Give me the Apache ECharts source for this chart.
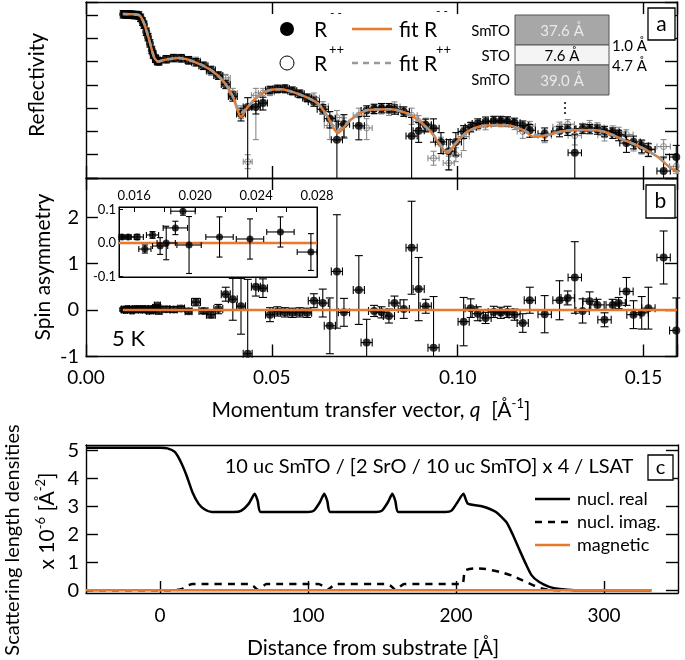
<!DOCTYPE html>
<html><head><meta charset="utf-8">
<script src="https://cdn.jsdelivr.net/npm/echarts@6/dist/echarts.min.js"></script>
<style>html,body{margin:0;padding:0;background:#fff}#c{width:685px;height:660px}</style>
</head><body><div id="c"></div>
<script>
// ---------- data: reflectivity / spin asymmetry (shared q grid) ----------
const q = [
0.0100,0.0106,0.0112,0.0118,0.0124,0.0130,0.0136,0.0142,0.0147,
0.0152,0.0156,0.0162,0.0167,0.0172,0.0177,0.0181,0.0187,0.0192,0.0196,
0.0216,0.0236,0.0256,0.0276,
0.0296,0.0316,0.0336,0.0356,0.0376,0.0395,0.0417,0.0435,0.0457,0.0476,0.0495,
0.0515,0.0535,0.0555,0.0575,0.0595,0.0613,0.0637,0.0656,0.0675,0.0694,0.0734,0.0755,
0.0775,0.0795,0.0815,0.0830,0.0855,0.0876,0.0895,0.0914,0.0935,0.0955,0.0976,0.0995,
0.1016,0.1035,0.1054,0.1075,0.1097,0.1116,0.1134,0.1153,0.1175,0.1194,0.1234,0.1274,0.1296,
0.1315,0.1336,0.1355,0.1376,0.1395,0.1417,0.1433,0.1454,0.1473,0.1495,0.1513,0.1554,0.1588];
const qErr = [
0.0005,0.0005,0.0005,0.0005,0.0005,0.0005,0.0005,0.0005,0.0005,
0.0004,0.0004,0.0004,0.0004,0.0004,0.0005,0.0006,0.0008,0.0008,0.0008,
0.0009,0.0009,0.0009,0.0009,
0.0012,0.0012,0.0012,0.0012,0.0012,0.0012,0.0012,0.0012,0.0012,0.0012,0.0012,
0.0012,0.0012,0.0012,0.0012,0.0012,0.0015,0.0015,0.0015,0.0015,0.0015,0.0015,0.0015,
0.0015,0.0015,0.0015,0.0015,0.0015,0.0015,0.0015,0.0015,0.0015,0.0015,0.0015,0.0015,
0.0015,0.0015,0.0015,0.0015,0.0015,0.0015,0.0015,0.0015,0.0015,0.0015,0.0018,0.0018,0.0018,
0.0018,0.0018,0.0018,0.0018,0.0018,0.0018,0.0018,0.0018,0.0018,0.0018,0.0018,0.0018,0.0018];
// log10 of R-- and R++
const rMM = [
0.03,0.03,0.02,0.02,0.01,0.00,0.00,-0.02,-0.12,
-0.28,-0.42,-0.72,-0.95,-1.22,-1.50,-1.70,-1.88,-1.98,-1.99,
-1.90,-1.85,-1.86,-1.94,
-2.03,-2.18,-2.36,-2.60,-2.98,-3.50,-4.25,-3.95,-3.95,-3.78,-3.22,
-3.17,-3.16,-3.25,-3.38,-3.55,-3.72,-4.05,-4.45,-5.36,-4.68,-4.76,-4.10,
-4.03,-4.00,-4.00,-4.06,-4.15,-5.20,-4.97,-4.72,-4.86,-5.45,-5.85,-5.45,
-5.00,-4.82,-4.66,-4.58,-4.55,-4.55,-4.57,-4.63,-4.75,-4.95,-5.10,-4.98,-4.92,
-5.92,-4.88,-4.90,-4.92,-4.98,-5.05,-5.15,-5.50,-5.45,-5.62,-5.78,-6.70,-6.10];
const rPP = [
0.04,0.02,0.03,0.01,0.02,0.01,0.00,-0.01,-0.11,
-0.27,-0.41,-0.70,-0.97,-1.20,-1.51,-1.70,-1.84,-1.90,-1.99,
-1.88,-1.84,-1.83,-1.97,
-1.95,-2.20,-2.45,-2.62,-2.70,-3.35,-4.15,-6.30,-3.45,-3.35,-3.32,
-3.20,-3.21,-3.30,-3.42,-3.60,-3.55,-3.92,-4.75,-4.40,-4.72,-4.30,-4.85,
-4.05,-4.05,-4.11,-3.93,-4.14,-4.30,-4.57,-4.68,-6.15,-5.55,-6.36,-6.00,
-5.22,-4.79,-4.73,-4.73,-4.58,-4.60,-4.60,-4.72,-5.00,-4.77,-5.18,-4.80,-4.69,
-5.18,-4.90,-4.73,-4.83,-5.16,-4.96,-5.02,-5.13,-5.54,-5.67,-5.75,-5.65,-6.50];
const mmDn = [
0.16,0.16,0.16,0.16,0.16,0.16,0.16,0.16,0.16,
0.16,0.16,0.16,0.16,0.16,0.16,0.16,0.16,0.16,0.16,
0.16,0.16,0.16,0.16,
0.16,0.16,0.16,0.16,0.18,0.20,0.30,4.00,0.30,0.30,0.16,
0.16,0.16,0.16,0.16,0.16,0.20,0.20,0.40,2.00,0.60,0.60,0.25,
0.20,0.20,0.20,0.20,0.20,2.00,0.50,0.30,0.60,0.50,0.80,0.60,
0.30,0.20,0.20,0.20,0.20,0.20,0.20,0.20,0.20,0.30,0.30,0.25,0.25,
1.50,0.20,0.20,0.20,0.25,0.25,0.25,0.40,0.30,0.30,0.30,1.00,0.60];
const mmUp = [
0.16,0.16,0.16,0.16,0.16,0.16,0.16,0.16,0.16,
0.16,0.16,0.16,0.16,0.16,0.16,0.16,0.16,0.16,0.16,
0.16,0.16,0.16,0.16,
0.16,0.16,0.16,0.16,0.18,0.20,0.25,0.40,0.25,0.25,0.16,
0.16,0.16,0.16,0.16,0.16,0.20,0.20,0.30,0.80,0.40,0.40,0.20,
0.20,0.20,0.20,0.20,0.20,0.80,0.35,0.25,0.40,0.40,0.50,0.40,
0.25,0.20,0.20,0.20,0.20,0.20,0.20,0.20,0.20,0.25,0.25,0.20,0.20,
0.80,0.20,0.20,0.20,0.20,0.20,0.20,0.30,0.25,0.25,0.25,0.60,0.50];
const ppDn = [
0.14,0.14,0.14,0.14,0.14,0.14,0.14,0.14,0.14,
0.14,0.14,0.14,0.14,0.14,0.14,0.14,0.14,0.14,0.14,
0.14,0.14,0.14,0.14,
0.14,0.14,0.14,0.14,0.20,0.25,0.30,0.30,1.90,0.30,0.14,
0.15,0.15,0.15,0.15,0.15,0.20,0.25,0.60,0.50,0.50,0.40,0.50,
0.20,0.20,0.20,0.20,0.20,0.40,0.30,0.30,0.30,0.40,0.30,0.30,
0.60,0.20,0.20,0.20,0.20,0.20,0.20,0.20,0.30,0.20,0.30,0.20,0.20,
0.40,0.20,0.20,0.20,0.25,0.25,0.25,0.25,0.30,0.30,0.30,0.50,0.30];
const ppUp = [
0.14,0.14,0.14,0.14,0.14,0.14,0.14,0.14,0.14,
0.14,0.14,0.14,0.14,0.14,0.14,0.14,0.14,0.14,0.14,
0.14,0.14,0.14,0.14,
0.14,0.14,0.14,0.14,0.15,0.20,0.25,0.30,0.30,0.20,0.14,
0.15,0.15,0.15,0.15,0.15,0.20,0.20,0.40,0.30,0.30,0.30,0.40,
0.20,0.20,0.20,0.20,0.20,0.30,0.25,0.25,0.30,0.30,0.30,0.30,
0.40,0.20,0.20,0.20,0.20,0.20,0.20,0.20,0.25,0.20,0.25,0.20,0.20,
0.30,0.20,0.20,0.20,0.20,0.20,0.20,0.20,0.25,0.25,0.25,0.30,0.30];
const sa = [
0.01,0.00,0.02,0.01,-0.01,0.02,0.01,0.02,0.01,
0.018,0.018,0.018,-0.018,0.024,-0.009,0.000,0.045,0.095,-0.006,
0.018,0.012,0.033,-0.027,
0.17,-0.02,-0.10,0.02,0.34,0.23,0.08,-0.94,0.50,0.47,-0.10,
-0.03,-0.05,-0.06,-0.05,-0.06,0.20,0.15,-0.34,0.83,-0.05,0.43,-0.70,
-0.02,-0.05,-0.13,0.15,0.02,1.34,0.45,0.08,-0.81,null,null,null,
-0.25,0.04,-0.08,-0.17,-0.04,-0.06,-0.04,-0.10,-0.28,0.21,-0.09,0.21,0.26,
0.70,-0.02,0.19,0.11,-0.21,0.11,0.15,0.40,-0.10,-0.06,0.04,1.13,-0.44];
const saErr = [
0.03,0.03,0.03,0.03,0.03,0.03,0.03,0.03,0.03,
0.006,0.006,0.008,0.012,0.010,0.025,0.050,0.020,0.012,0.085,
0.060,0.060,0.045,0.055,
0.08,0.06,0.07,0.10,0.15,0.45,0.60,1.60,0.20,0.20,0.15,
0.10,0.10,0.10,0.10,0.10,0.15,0.30,0.60,1.22,0.30,0.74,0.50,
0.12,0.12,0.15,0.15,0.20,1.00,0.68,0.15,1.10,null,null,null,
0.52,0.20,0.15,0.12,0.12,0.12,0.12,0.12,0.20,0.28,0.40,0.42,0.15,
0.77,0.26,0.20,0.12,0.15,0.12,0.12,0.30,0.30,0.35,0.45,0.57,0.70];
// fits
const fitQ  = [0.0099,0.0142,0.0156,0.0170,0.0183,0.0194,0.0210,0.0247,0.0290,0.0336,0.0371,0.0395,0.0417,0.0435,0.0462,0.0489,0.0524,0.0578,0.0624,0.0650,0.0677,0.0712,0.0758,0.0820,0.0874,0.0927,0.0973,0.0995,0.1027,0.1070,0.1124,0.1177,0.1204,0.1242,0.1285,0.1339,0.1392,0.1446,0.1492,0.1538,0.1573,0.1600];
const fitMM = [0.04,0.0,-0.35,-1.07,-1.8,-2.0,-1.93,-1.85,-2.0,-2.36,-2.87,-3.5,-4.37,-3.95,-3.5,-3.25,-3.19,-3.43,-3.8,-4.37,-5.07,-4.5,-4.08,-4.05,-4.3,-5.0,-5.93,-5.5,-5.0,-4.76,-4.72,-4.94,-5.23,-5.15,-4.98,-4.94,-5.0,-5.36,-5.67,-6.09,-6.57,-6.8];
const fitPP = [0.04,0.0,-0.35,-1.07,-1.8,-2.0,-1.93,-1.85,-2.0,-2.36,-2.87,-3.5,-4.2,-3.95,-3.5,-3.25,-3.19,-3.43,-3.8,-4.37,-4.95,-4.5,-4.08,-4.05,-4.3,-5.0,-5.85,-5.5,-5.0,-4.76,-4.72,-4.94,-5.15,-5.15,-4.98,-4.94,-5.0,-5.36,-5.67,-6.09,-6.57,-6.8];
const saFitQ = [0.0099,0.159];
const saFitV = [0,0];
const insetFitQ = [0.015,0.028];
const insetFitV = [0,0];
// ---------- data: SLD profile ----------
const realX = [-50,0,5,10,14,18,22,26,30,35,50,55,60,64,66,68,100,104,108,111,113,115,146,150,154,157,159,161,193,197,201,205,208,218,227,234,238,243,247,251,256,263,270,280,332];
const realY = [5.1,5.1,5.08,4.95,4.6,4.1,3.5,3.1,2.9,2.8,2.8,2.85,3.1,3.45,3.2,2.8,2.8,2.85,3.15,3.45,3.2,2.8,2.8,2.85,3.15,3.45,3.2,2.8,2.8,2.85,3.15,3.45,3.1,3.0,2.8,2.44,2.03,1.43,0.96,0.54,0.3,0.12,0.04,0.0,0.0];
const imagX = [-50,10,15,18,22,60,63,66,69,72,107,110,113,116,119,153,156,159,162,165,204,206,212,220,230,238,245,252,258,265,275];
const imagY = [0,0,0.05,0.15,0.22,0.22,0.15,0.02,0.12,0.22,0.22,0.15,0.02,0.12,0.22,0.22,0.15,0.02,0.12,0.22,0.22,0.7,0.78,0.76,0.65,0.52,0.35,0.18,0.06,0.01,0];
const magX = [-50,332];
const magY = [0,0];
// tick labels
const qTicks = [0, 0.05, 0.10, 0.15];
const insetQTicks = [0.016,0.020,0.024,0.028];
const insetQMinor = [0.016,0.018,0.020,0.022,0.024,0.026,0.028];
const insetSATicks = [-0.1,0.0,0.1];
const saTicks = [-1,0,1,2];
const distTicks = [0,100,200,300];
const sldTicks = [0,1,2,3,4,5];

// ---------- styling ----------
const F = 'Lato, "Open Sans", sans-serif';
const ORANGE = '#E8782A';
const QMAX = 0.159;

function errItem(color, cap){
  return function(params, api){
    const x = api.value(0), y = api.value(1);
    if (isNaN(x) || isNaN(y)) return null;
    const dn = api.value(2), up = api.value(3), dx = api.value(4);
    const cs = params.coordSys;
    const x0 = cs.x, x1 = cs.x + cs.width, y0 = cs.y, y1 = cs.y + cs.height;
    const c = api.coord([x, y]);
    if (c[0] < x0 - 0.5 || c[0] > x1 + 0.5) return null;
    const cy = v => Math.max(y0, Math.min(y1, v));
    const cx = v => Math.max(x0, Math.min(x1, v));
    const top = cy(api.coord([x, y + up])[1]);
    const bot = cy(api.coord([x, y - dn])[1]);
    const l = cx(api.coord([x - dx, y])[0]);
    const r = cx(api.coord([x + dx, y])[0]);
    const px = c[0], py = c[1];
    const st = {stroke: color, lineWidth: 1.1, fill: null};
    const ch = [];
    const ln = (a,b,c2,d) => ch.push({type:'line', shape:{x1:a,y1:b,x2:c2,y2:d}, style: st});
    ln(px, top, px, bot);
    if (py >= y0 && py <= y1) {
      ln(l, py, r, py);
      ln(l, py - cap, l, py + cap); ln(r, py - cap, r, py + cap);
    }
    if (top > y0 + 0.5) ln(px - cap, top, px + cap, top);
    if (bot < y1 - 0.5) ln(px - cap, bot, px + cap, bot);
    return {type:'group', children: ch};
  };
}

const lineStyleAx = {color:'#000', width:1.4};
function axis(o){
  const base = {
    type:'value', splitLine:{show:false},
    axisLine:{show:true, onZero:false, lineStyle:lineStyleAx},
    axisTick:{show:true, inside:true, length:12, lineStyle:lineStyleAx},
    axisLabel:{show:false}
  };
  return Object.assign(base, o);
}

const mmData = q.map((v,i)=>[v, rMM[i], mmDn[i], mmUp[i], qErr[i]]);
const ppData = q.map((v,i)=>[v, rPP[i], ppDn[i], ppUp[i], qErr[i]]);
const saData = q.map((v,i)=>[v, sa[i], saErr[i], saErr[i], qErr[i]]).filter(d => d[1] !== null);

const xAxes = [
  axis({gridIndex:0, position:'bottom', min:0, max:QMAX, interval:0.05}),
  axis({gridIndex:0, position:'top', min:0, max:QMAX, interval:0.05}),
  axis({gridIndex:1, position:'bottom', min:0, max:QMAX, interval:0.05,
        axisLabel:{show:true, margin:12, fontSize:19, fontFamily:F, color:'#000', customValues:qTicks, formatter:v=>v.toFixed(2)}}),
  axis({gridIndex:1, position:'top', min:0, max:QMAX, interval:0.05}),
  axis({gridIndex:2, position:'top', min:0.015, max:0.028,
        axisLine:{show:true, onZero:false, lineStyle:{color:'#000', width:1}},
        axisTick:{show:true, inside:true, length:5, customValues:insetQMinor, lineStyle:{color:'#000', width:1}},
        axisLabel:{show:true, margin:5, fontSize:13, fontFamily:F, color:'#000', customValues:insetQTicks, formatter:v=>v.toFixed(3)}}),
  axis({gridIndex:2, position:'bottom', min:0.015, max:0.028, axisLine:{show:true, onZero:false, lineStyle:{color:'#000', width:1}}, axisTick:{show:false}}),
  axis({gridIndex:3, position:'bottom', min:-50, max:350,
        axisTick:{show:true, inside:true, length:12, customValues:distTicks, lineStyle:lineStyleAx},
        axisLabel:{show:true, margin:13, fontSize:19, fontFamily:F, color:'#000', customValues:distTicks}}),
  axis({gridIndex:3, position:'top', min:-50, max:350, axisTick:{show:false}})
];
const yAxes = [
  axis({gridIndex:0, position:'left', min:-7, max:0.56, interval:1}),
  axis({gridIndex:0, position:'right', min:-7, max:0.56, interval:1}),
  axis({gridIndex:1, position:'left', min:-1, max:2.84, interval:1,
        axisLabel:{show:true, margin:7, fontSize:20, fontFamily:F, color:'#000', customValues:saTicks}}),
  axis({gridIndex:1, position:'right', min:-1, max:2.84, interval:1}),
  axis({gridIndex:2, position:'left', min:-0.1015, max:0.1075,
        axisLine:{show:true, onZero:false, lineStyle:{color:'#000', width:1}},
        axisTick:{show:true, inside:true, length:4, customValues:insetSATicks, lineStyle:{color:'#000', width:1}},
        axisLabel:{show:true, margin:3, fontSize:13, fontFamily:F, color:'#000', customValues:insetSATicks, formatter:v=>v.toFixed(1)}}),
  axis({gridIndex:2, position:'right', min:-0.1015, max:0.1075, axisLine:{show:true, onZero:false, lineStyle:{color:'#000', width:1}}, axisTick:{show:false}}),
  axis({gridIndex:3, position:'left', min:-0.1, max:5.2,
        axisTick:{show:true, inside:true, length:12, customValues:sldTicks, lineStyle:lineStyleAx},
        axisLabel:{show:true, margin:7, fontSize:20, fontFamily:F, color:'#000', customValues:sldTicks}}),
  axis({gridIndex:3, position:'right', min:-0.1, max:5.2,
        axisTick:{show:true, inside:true, length:12, customValues:sldTicks, lineStyle:lineStyleAx}})
];

function txt(x, y, text, size, extra){
  return Object.assign({type:'text', x:x, y:y, z:100,
    style:Object.assign({text:text, fontSize:size, fontFamily:F, fill:'#000', align:'left', verticalAlign:'middle'}, extra||{})});
}
function rtxt(x, y, text, size, extra){
  const e = txt(x, y, text, size, Object.assign({align:'center'}, extra||{}));
  e.rotation = Math.PI/2;
  return e;
}
function box(x,y,w,h,label,size){
  return [
    {type:'rect', z:99, shape:{x:x,y:y,width:w,height:h}, style:{fill:'#fff', stroke:'#000', lineWidth:1.3}},
    txt(x+w/2, y+h/2, label, size, {align:'center'})
  ];
}
const supRich = {
  n:{fontSize:21, fontFamily:F, fill:'#000', lineHeight:26, verticalAlign:'middle'},
  i:{fontSize:21, fontFamily:F, fontStyle:'italic', fill:'#000', lineHeight:26, verticalAlign:'middle'},
  s:{fontSize:13, fontFamily:F, fill:'#000', lineHeight:13, verticalAlign:'top'}
};

const graphics = [
  // panel a legend
  {type:'circle', z:100, shape:{cx:287, cy:29, r:7}, style:{fill:'#000'}},
  {type:'circle', z:100, shape:{cx:287, cy:63, r:7}, style:{fill:'#fff', stroke:'#000', lineWidth:1}},
  txt(314, 30, 'R', 21), txt(330, 13, '- -', 12),
  txt(314, 64, 'R', 21), txt(329, 50, '++', 13),
  {type:'line', z:100, shape:{x1:352, y1:29, x2:392, y2:29}, style:{stroke:ORANGE, lineWidth:2.5}},
  {type:'line', z:100, shape:{x1:352, y1:63, x2:392, y2:63}, style:{stroke:'#999', lineWidth:2.5, lineDash:[6,5]}},
  txt(399, 30, 'fit R', 21), txt(436, 11, '- -', 12),
  txt(399, 64, 'fit R', 21), txt(436, 50, '++', 13),
  // layer table
  {type:'rect', z:100, shape:{x:515, y:15, width:94, height:30}, style:{fill:'#a7a7a7', stroke:'#555', lineWidth:1}},
  {type:'rect', z:100, shape:{x:515, y:45, width:94, height:20}, style:{fill:'#f4f4f4', stroke:'#555', lineWidth:1}},
  {type:'rect', z:100, shape:{x:515, y:65, width:94, height:30}, style:{fill:'#a7a7a7', stroke:'#555', lineWidth:1}},
  txt(562, 31, '37.6 Å', 15, {align:'center', fill:'#e9e9e9'}),
  txt(562, 56, '7.6 Å', 15, {align:'center'}),
  txt(562, 81, '39.0 Å', 15, {align:'center', fill:'#e9e9e9'}),
  txt(510, 31, 'SmTO', 15, {align:'right'}),
  txt(510, 56, 'STO', 15, {align:'right'}),
  txt(510, 80, 'SmTO', 15, {align:'right'}),
  txt(612, 46, '1.0 Å', 15), txt(612, 66, '4.7 Å', 15),
  {type:'circle', z:100, shape:{cx:565, cy:103, r:1}, style:{fill:'#000'}},
  {type:'circle', z:100, shape:{cx:565, cy:108, r:1}, style:{fill:'#000'}},
  {type:'circle', z:100, shape:{cx:565, cy:113, r:1}, style:{fill:'#000'}},
  ...box(648, 8, 27, 32, 'a', 21),
  ...box(646, 185, 29, 33, 'b', 21),
  ...box(648, 455, 25, 25, 'c', 20),
  txt(112, 339, '5 K', 22),
  // axis titles
  rtxt(37, 85, 'Reflectivity', 21),
  rtxt(43, 267, 'Spin asymmetry', 21),
  txt(371, 410, '{n|Momentum transfer vector, }{i|q}{n|  [Å}{s|-1}{n|]}', 21, {align:'center', rich:supRich}),
  rtxt(13, 540, 'Scattering length densities', 20),
  rtxt(47, 521, '{n|x 10}{s|-6}{n| [Å}{s|-2}{n|]}', 21, {rich:supRich}),
  txt(373, 648, 'Distance from substrate [Å]', 21, {align:'center'}),
  // panel c annotations
  txt(429, 467, '10 uc SmTO / [2 SrO / 10 uc SmTO] x 4 / LSAT', 20, {align:'center'}),
  {type:'line', z:100, shape:{x1:535, y1:499, x2:570, y2:499}, style:{stroke:'#000', lineWidth:2.5}},
  {type:'line', z:100, shape:{x1:535, y1:522, x2:570, y2:522}, style:{stroke:'#000', lineWidth:2.5, lineDash:[7,6]}},
  {type:'line', z:100, shape:{x1:535, y1:545, x2:570, y2:545}, style:{stroke:ORANGE, lineWidth:2.5}},
  txt(577, 499, 'nucl. real', 18),
  txt(577, 522, 'nucl. imag.', 18),
  txt(577, 545, 'magnetic', 18)
];

const pts = (xs, ys) => xs.map((v,i)=>[v, ys[i]]);

const option = {
  animation:false,
  backgroundColor:'#fff',
  grid:[
    {left:86, top:2, width:591, height:176, containLabel:false},
    {left:86, top:178, width:591, height:178.5, containLabel:false},
    {left:119, top:207, width:198, height:70, containLabel:false, show:true, backgroundColor:'#fff', borderColor:'#000', borderWidth:1},
    {left:86, top:445, width:592, height:148, containLabel:false}
  ],
  xAxis:xAxes,
  yAxis:yAxes,
  graphic:graphics,
  series:[
    // panel a
    {type:'custom', xAxisIndex:0, yAxisIndex:0, renderItem:errItem('#8a8a8a', 3), data:ppData, encode:{x:0,y:1}, z:2},
    {type:'scatter', xAxisIndex:0, yAxisIndex:0, data:ppData.map(d=>[d[0],d[1]]), symbolSize:6, itemStyle:{color:'rgba(255,255,255,0)', borderColor:'#777', borderWidth:1}, z:3},
    {type:'custom', xAxisIndex:0, yAxisIndex:0, renderItem:errItem('#000', 3.5), data:mmData, encode:{x:0,y:1}, z:4},
    {type:'scatter', xAxisIndex:0, yAxisIndex:0, data:mmData.map(d=>[d[0],d[1]]), symbolSize:8, itemStyle:{color:'#000'}, z:5},
    {type:'line', xAxisIndex:0, yAxisIndex:0, data:pts(fitQ, fitMM), smooth:0.25, symbol:'none', lineStyle:{color:ORANGE, width:2.5}, z:6},
    {type:'line', xAxisIndex:0, yAxisIndex:0, data:pts(fitQ, fitPP), smooth:0.25, symbol:'none', lineStyle:{color:'#9a9a9a', width:2.5, type:[6,5]}, z:7},
    // panel b
    {type:'custom', xAxisIndex:2, yAxisIndex:2, renderItem:errItem('#000', 4), data:saData, encode:{x:0,y:1}, z:4},
    {type:'scatter', xAxisIndex:2, yAxisIndex:2, data:saData.map(d=>[d[0],d[1]]), symbolSize:8, itemStyle:{color:'#000'}, z:5},
    {type:'line', xAxisIndex:2, yAxisIndex:2, data:pts(saFitQ, saFitV), symbol:'none', lineStyle:{color:ORANGE, width:2.5}, z:6},
    // inset
    {type:'line', xAxisIndex:4, yAxisIndex:4, data:pts(insetFitQ, insetFitV), symbol:'none', lineStyle:{color:ORANGE, width:2.5}, z:10},
    {type:'custom', xAxisIndex:4, yAxisIndex:4, renderItem:errItem('#000', 3), data:saData, encode:{x:0,y:1}, z:11},
    {type:'scatter', xAxisIndex:4, yAxisIndex:4, data:saData.map(d=>[d[0],d[1]]), symbolSize:7, itemStyle:{color:'#000'}, z:12},
    // panel c
    {type:'line', xAxisIndex:6, yAxisIndex:6, data:pts(imagX, imagY), smooth:0.2, symbol:'none', lineStyle:{color:'#000', width:2.5, type:[7,6]}, z:4},
    {type:'line', xAxisIndex:6, yAxisIndex:6, data:pts(realX, realY), smooth:0.2, symbol:'none', lineStyle:{color:'#000', width:2.5}, z:5},
    {type:'line', xAxisIndex:6, yAxisIndex:6, data:pts(magX, magY), symbol:'none', lineStyle:{color:ORANGE, width:2.5}, z:6}
  ]
};
const chart = echarts.init(document.getElementById('c'), null, {renderer:'canvas'});
chart.setOption(option);
</script></body></html>
